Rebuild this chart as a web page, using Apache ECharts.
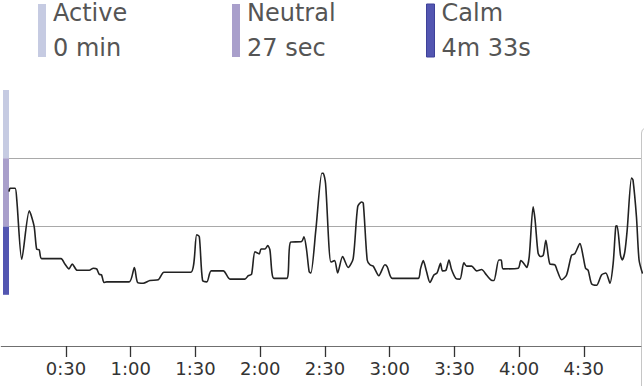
<!DOCTYPE html>
<html>
<head>
<meta charset="utf-8">
<script src="https://cdn.jsdelivr.net/npm/echarts@6/dist/echarts.min.js"></script>
<style>
html,body{margin:0;padding:0;background:#fff;}
#chart{width:644px;height:386px;}
</style>
</head>
<body>
<div id="chart"></div>
<script>
// ---- data ----
const zoneNames = ['Active', 'Neutral', 'Calm'];
const zoneDurations = ['0 min', '27 sec', '4m 33s'];
const zoneLow = [2, 1, 0];
const zoneHigh = [3, 2, 1];
const tickSeconds = [30, 60, 90, 120, 150, 180, 210, 240, 270];

// time in seconds
const times = [
  3.6, 4.1, 6.4, 7.2, 9.5, 13.0, 15.2, 16.4, 17.6, 18.7, 27.7, 29.5, 31.4, 32.9, 35.2, 40.8, 42.7, 44.2, 45.4, 46.5,
  47.6, 48.9, 59.3, 61.7, 63.2, 65.8, 68.9, 72.8, 75.4, 87.8, 90.6, 91.8, 93.3, 95.3, 97.3, 102.9, 106.0, 112.9, 114.5, 116.0,
  117.6, 119.6, 120.4, 122.2, 123.5, 124.5, 126.4, 132.3, 134.1, 139.2, 140.3, 141.5, 142.7, 143.5, 145.8, 148.6, 149.2, 150.3, 152.8, 154.5,
  155.9, 158.2, 160.8, 163.1, 165.2, 167.0, 167.8, 169.6, 170.9, 172.4, 175.0, 177.8, 178.9, 181.2, 193.2, 194.3, 195.6, 197.1, 198.7, 200.5,
  202.0, 203.6, 204.5, 206.1, 207.5, 208.7, 210.7, 212.6, 214.4, 215.7, 218.0, 220.3, 222.6, 224.9, 226.9, 228.3, 230.6, 231.7, 232.6, 239.6,
  240.8, 242.2, 243.5, 244.7, 246.5, 247.4, 248.8, 249.9, 251.2, 252.4, 254.3, 256.6, 257.6, 259.7, 262.0, 264.3, 265.8, 268.2, 269.7, 270.8,
  272.0, 273.6, 275.9, 278.2, 280.2, 282.1, 283.6, 284.8, 285.4, 287.0, 287.8, 289.0, 290.1, 292.1, 292.8, 294.4, 295.6, 297.2
];
// level: 0-1 calm, 1-2 neutral, 2-3 active
const levels = [
  1.51, 1.56, 1.56, 1.39, 0.52, 1.23, 1.01, 0.67, 0.66, 0.53, 0.53, 0.45, 0.38, 0.45, 0.36, 0.36, 0.39, 0.38, 0.30, 0.29,
  0.18, 0.19, 0.19, 0.40, 0.18, 0.17, 0.21, 0.22, 0.33, 0.33, 0.88, 0.85, 0.21, 0.19, 0.35, 0.35, 0.23, 0.23, 0.28, 0.30,
  0.63, 0.60, 0.67, 0.67, 0.72, 0.66, 0.24, 0.24, 0.77, 0.78, 0.85, 0.66, 0.34, 0.32, 0.95, 1.78, 1.78, 1.63, 0.48, 0.50,
  0.32, 0.56, 0.40, 0.53, 1.29, 1.36, 1.34, 0.51, 0.44, 0.42, 0.28, 0.44, 0.41, 0.24, 0.24, 0.38, 0.50, 0.34, 0.18, 0.29,
  0.32, 0.46, 0.35, 0.36, 0.51, 0.37, 0.24, 0.23, 0.47, 0.42, 0.42, 0.35, 0.37, 0.29, 0.22, 0.21, 0.51, 0.51, 0.38, 0.39,
  0.50, 0.46, 0.40, 0.56, 1.29, 1.10, 0.61, 0.56, 0.58, 0.80, 0.45, 0.44, 0.36, 0.22, 0.29, 0.58, 0.60, 0.75, 0.56, 0.39,
  0.36, 0.16, 0.14, 0.29, 0.32, 0.17, 0.46, 1.00, 1.01, 0.58, 0.51, 0.63, 0.95, 1.71, 1.68, 1.14, 0.51, 0.31
];

// ---- chart ----
const zoneColors = ['#c6cbe2', '#a99fcb', '#5356b1'];
const FONT = 'DejaVu Sans';
const chart = echarts.init(document.getElementById('chart'), null, { renderer: 'svg' });

function fmtTime(v) {
  const m = Math.floor(v / 60);
  const s = Math.round(v % 60);
  return m + ':' + (s < 10 ? '0' + s : s);
}

const lineData = times.map((t, i) => [t, levels[i]]);
const xMin = 0, xMax = 296.5;
const barX0 = 0.8, barX1 = 3.6;

const legendLeft = [38, 232, 426];
const legends = zoneNames.map((n, i) => ({
  data: [n],
  left: legendLeft[i],
  top: -4.5,
  padding: 0,
  icon: 'rect',
  itemWidth: 8,
  itemHeight: 53,
  selectedMode: false,
  formatter: (name) => name + '\n' + zoneDurations[zoneNames.indexOf(name)],
  itemStyle: i === 2 ? { borderColor: '#3e4199', borderWidth: 1 } : {},
  textStyle: { fontFamily: FONT, fontSize: 24, lineHeight: 35, color: '#555555', padding: [0, 0, 0, 2] }
}));

const zoneSeries = zoneNames.map((n, i) => ({
  name: n,
  type: 'line',
  data: [],
  color: zoneColors[i],
  silent: true,
  markArea: {
    silent: true,
    itemStyle: { color: zoneColors[i], opacity: 1 },
    data: [[{ coord: [barX0, zoneHigh[i]] }, { coord: [barX1, zoneLow[i]] }]]
  }
}));

chart.setOption({
  animation: false,
  backgroundColor: '#ffffff',
  legend: legends,
  grid: { left: 1.25, right: 3, top: 90, bottom: 40, containLabel: false },
  xAxis: {
    type: 'value',
    min: xMin,
    max: xMax,
    interval: 30,
    axisLine: { show: true, onZero: false, lineStyle: { color: '#6f6f6f', width: 1 } },
    axisTick: { show: true, length: 11, customValues: tickSeconds, lineStyle: { color: '#333333', width: 1.3 } },
    axisLabel: {
      customValues: tickSeconds,
      margin: 13,
      fontFamily: FONT, fontSize: 18, color: '#333333',
      formatter: (v) => fmtTime(v)
    },
    splitLine: { show: false }
  },
  yAxis: {
    type: 'value',
    min: -0.75,
    max: 3,
    show: false,
    splitLine: { show: false }
  },
  graphic: [{
    type: 'polyline',
    silent: true,
    shape: { points: [[641.5, 386], [641.5, 133], [642.3, 130], [644, 128.7], [646, 128.5]] },
    style: { stroke: '#c6c6c6', lineWidth: 1, fill: null }
  }],
  series: zoneSeries.concat([{
    name: 'Level',
    type: 'line',
    data: lineData,
    showSymbol: false,
    smooth: 0.25,
    clip: true,
    lineStyle: { color: '#222222', width: 1.6 },
    z: 5,
    markLine: {
      silent: true,
      symbol: 'none',
      label: { show: false },
      lineStyle: { color: '#a9a9a9', width: 1, type: 'solid' },
      data: [
        [{ coord: [barX1, zoneLow[0]] }, { coord: [xMax, zoneLow[0]] }],
        [{ coord: [barX1, zoneLow[1]] }, { coord: [xMax, zoneLow[1]] }]
      ]
    }
  }])
});
</script>
</body>
</html>
